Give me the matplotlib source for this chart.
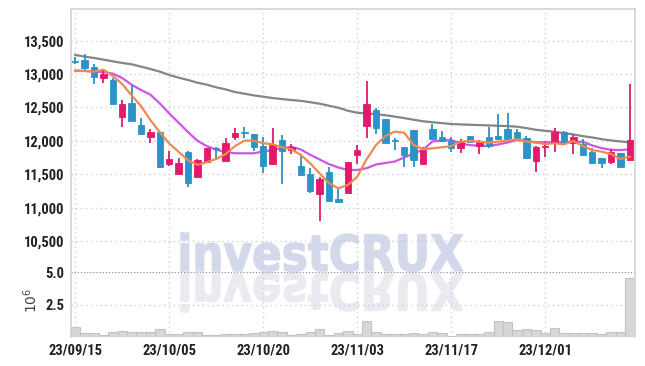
import numpy as np
import matplotlib.pyplot as plt
from matplotlib import font_manager as fm
from matplotlib.textpath import TextPath
from matplotlib.patches import PathPatch
from matplotlib.font_manager import FontProperties
from matplotlib.transforms import Affine2D

# trading days shown on the chart
dates = ["23/09/15", "23/09/18", "23/09/19", "23/09/20", "23/09/21", "23/09/22",
         "23/09/25", "23/09/26", "23/09/27", "23/10/04", "23/10/05", "23/10/06",
         "23/10/10", "23/10/11", "23/10/12", "23/10/13", "23/10/16", "23/10/17",
         "23/10/18", "23/10/19", "23/10/20", "23/10/23", "23/10/24", "23/10/25",
         "23/10/26", "23/10/27", "23/10/30", "23/10/31", "23/11/01", "23/11/02",
         "23/11/03", "23/11/06", "23/11/07", "23/11/08", "23/11/09", "23/11/10",
         "23/11/13", "23/11/14", "23/11/15", "23/11/16", "23/11/17", "23/11/20",
         "23/11/21", "23/11/22", "23/11/23", "23/11/24", "23/11/27", "23/11/28",
         "23/11/29", "23/11/30", "23/12/01", "23/12/04", "23/12/05", "23/12/06",
         "23/12/07", "23/12/08", "23/12/11", "23/12/12", "23/12/13", "23/12/14"]

opens = [13200, 13210, 13110, 12945, 12910, 12360, 12560, 12230, 12060, 12125,
         11650, 11500, 11830, 11460, 11690, 11895, 11702, 12061, 12130, 12102,
         11922, 11648, 12012, 11855, 11623, 11503, 11200, 11528, 11130, 11215,
         11792, 12226, 12461, 12326, 12010, 11903, 12162, 11648, 12172, 12057,
         12002, 11888, 12067, 11918, 12057, 12072, 12177, 12137, 12037, 11702,
         11910, 11963, 12137, 11963, 11952, 11832, 11742, 11678, 11817, 11708]
highs = [13260, 13295, 13145, 13050, 12935, 12610, 12835, 12335, 12170, 12125,
         11850, 11740, 11850, 11735, 11890, 11905, 12037, 12187, 12211, 12102,
         12062, 12196, 12087, 11948, 11798, 11588, 11463, 11603, 11289, 11683,
         11937, 12900, 12486, 12326, 12037, 11903, 12162, 11900, 12247, 12151,
         12052, 12027, 12067, 12012, 12211, 12396, 12411, 12172, 12072, 11927,
         11978, 12187, 12150, 12087, 12022, 11888, 11742, 11873, 11817, 12850]
lows = [13150, 13060, 12850, 12860, 12555, 12200, 12300, 12090, 11960, 11600,
        11620, 11500, 11305, 11460, 11665, 11715, 11702, 12012, 12037, 11852,
        11513, 11648, 11353, 11802, 11493, 11223, 10800, 11103, 11073, 11215,
        11653, 12046, 12102, 11972, 11862, 11603, 11603, 11648, 12020, 11987,
        11837, 11813, 11987, 11798, 11888, 12012, 12027, 12037, 11732, 11529,
        11753, 11828, 11963, 11798, 11768, 11648, 11597, 11648, 11613, 11708]
closes = [13185, 13095, 12960, 13000, 12555, 12545, 12300, 12100, 12125, 11610,
          11725, 11665, 11375, 11710, 11890, 11880, 11963, 12121, 12115, 11912,
          11627, 11937, 11852, 11900, 11493, 11253, 11428, 11103, 11090, 11683,
          11862, 12551, 12196, 11972, 11995, 11787, 11713, 11862, 12032, 12002,
          11888, 11997, 11987, 11978, 11927, 12027, 12027, 12037, 11747, 11907,
          11925, 12127, 11963, 12052, 11787, 11672, 11672, 11828, 11613, 12007]

# volume in millions
volumes = [0.78, 0.28, 0.32, 0.15, 0.38, 0.46, 0.40, 0.35, 0.40, 0.62,
           0.26, 0.26, 0.40, 0.35, 0.16, 0.15, 0.20, 0.20, 0.20, 0.30,
           0.36, 0.46, 0.41, 0.15, 0.25, 0.41, 0.61, 0.15, 0.30, 0.46,
           0.20, 1.23, 0.41, 0.25, 0.25, 0.25, 0.30, 0.25, 0.41, 0.30,
           0.05, 0.25, 0.25, 0.25, 0.41, 1.23, 1.13, 0.51, 0.61, 0.51,
           0.30, 0.72, 0.30, 0.30, 0.30, 0.30, 0.20, 0.41, 0.41, 4.54]

# moving averages
ma5 = [13050, 13045, 13035, 13065, 12970, 12850, 12680, 12520, 12310, 12130,
       11960, 11835, 11710, 11640, 11680, 11728, 11802, 11922, 12002, 12002,
       11963, 11948, 11903, 11873, 11787, 11663, 11513, 11364, 11289, 11338,
       11463, 11723, 11937, 12072, 12137, 12121, 11937, 11873, 11888, 11903,
       11922, 11987, 11997, 11987, 11972, 11987, 12002, 12022, 11987, 11972,
       11952, 11963, 11948, 11997, 11922, 11862, 11837, 11802, 11728, 11762]
ma20 = [13050, 13045, 13038, 13030, 13005, 12940, 12840, 12760, 12690, 12560,
        12410, 12270, 12130, 12000, 11920, 11865, 11835, 11813, 11813, 11813,
        11840, 11860, 11890, 11910, 11870, 11790, 11720, 11650, 11600, 11563,
        11563, 11590, 11645, 11668, 11690, 11750, 11810, 11865, 11990, 12005,
        12012, 11960, 11935, 11925, 11922, 11945, 11975, 12012, 11995, 11980,
        11978, 11978, 11980, 11983, 11987, 11930, 11890, 11865, 11862, 11873]
ma60 = [13285, 13260, 13240, 13215, 13190, 13165, 13145, 13110, 13075, 13035,
        12985, 12945, 12910, 12870, 12840, 12800, 12770, 12730, 12705, 12680,
        12660, 12640, 12625, 12610, 12598, 12578, 12555, 12525, 12495, 12450,
        12420, 12410, 12398, 12383, 12362, 12340, 12315, 12292, 12278, 12265,
        12252, 12245, 12240, 12235, 12230, 12225, 12220, 12211, 12190, 12165,
        12150, 12135, 12115, 12095, 12070, 12050, 12025, 12005, 11990, 11978]

UP = "#e3196b"
DOWN = "#2b93c7"
GRID = "#c9cde0"
TXT = "#222222"

# pick a narrow face for the tick labels if one is installed
installed = fm.fontManager.ttflist
label_font = dict(family="Roboto", weight="heavy", size=10.5, color=TXT)
for name in ["Roboto Condensed", "Liberation Sans Narrow", "Open Sans Condensed",
             "Noto Sans Condensed"]:
    if any(f.name == name for f in installed):
        label_font = dict(family=name, weight="bold", size=10.5, color=TXT)
        break

W, H = 645, 366
fig = plt.figure(figsize=(W / 100, H / 100), dpi=100)
fig.patch.set_facecolor("white")

# background layer for the watermark, in image pixels
ax_bg = fig.add_axes([0, 0, 1, 1], zorder=-1)
ax_bg.set_xlim(0, W)
ax_bg.set_ylim(0, H)
ax_bg.axis("off")

fp = FontProperties(family="DejaVu Sans", weight="bold")
tp = TextPath((0, 0), "investCRUX", size=1, prop=fp)
ext = tp.get_extents()
sx = (463 - 181) / ext.width
sy = 38 / ext.ymax
main = Affine2D().translate(-ext.xmin, 0).scale(sx, sy).translate(181, H - 271)
refl = Affine2D().translate(-ext.xmin, 0).scale(sx, -sy).translate(181, H - 274)
ax_bg.add_patch(PathPatch(main.transform_path(tp), fc="#d3d9eb", ec="#d3d9eb", lw=1.0))
ax_bg.add_patch(PathPatch(refl.transform_path(tp), fc="#eaebf0", ec="#eaebf0", lw=1.0))

left, right = 71 / W, 635 / W
y_top, y_mid, y_bot = 1 - 9 / H, 1 - 272 / H, 1 - 337 / H
ax = fig.add_axes([left, y_mid, right - left, y_top - y_mid])
axv = fig.add_axes([left, y_bot, right - left, y_mid - y_bot], sharex=ax)
for a in (ax, axv):
    a.set_facecolor("none")

x = np.arange(len(dates))
o, h, l, c = map(np.array, (opens, highs, lows, closes))
colors = np.where(c >= o, UP, DOWN)

ax.vlines(x, l, h, colors=colors, linewidth=1.3, zorder=3)
body = np.maximum(np.abs(c - o), 8)
ax.bar(x, body, bottom=np.minimum(o, c), width=0.68, color=colors,
       edgecolor=colors, linewidth=0.6, zorder=4)

ax.plot(x, ma60, color="#858585", linewidth=1.6, zorder=2)
ax.plot(x, ma20, color="#cc55e4", linewidth=1.6, zorder=2)
ax.plot(x, ma5, color="#ee8a50", linewidth=1.6, zorder=5)

ax.set_xlim(-0.45, len(dates) - 0.45)
ax.set_ylim(10036, 13973)
price_ticks = [10500, 11000, 11500, 12000, 12500, 13000, 13500]
ax.set_yticks(price_ticks)
ax.set_yticklabels([f"{p:,}" for p in price_ticks], **label_font)

axv.bar(x, volumes, width=1.0, color="#d7d7da", edgecolor="#c3c3c6",
        linewidth=0.8, zorder=2)
axv.set_ylim(0, 5.0)
axv.set_yticks([2.5, 5.0])
axv.set_yticklabels(["2.5", "5.0"], **label_font)
axv.axhline(5.0, color="#8e8e96", linestyle=(0, (1, 1.5)), linewidth=0.9, zorder=1)
fig.text(31 / W, 1 - 300 / H, "$10^6$", rotation=90, ha="center", va="center",
         fontsize=10, color="#444444")

tick_idx = x[::10]
axv.set_xticks(tick_idx)
axv.set_xticklabels([dates[i] for i in tick_idx], **label_font)
plt.setp(ax.get_xticklabels(), visible=False)

for a in (ax, axv):
    a.tick_params(length=0, pad=5)
    a.grid(True, color=GRID, linestyle=(0, (1, 2.5)), linewidth=1.0)
    a.set_axisbelow(True)
    for s in a.spines.values():
        s.set_color("#d2d2d2")
        s.set_linewidth(1.2)
ax.spines["bottom"].set_visible(False)
axv.spines["top"].set_visible(False)
axv.spines["bottom"].set_visible(False)
axv.grid(False, axis="y")
axv.axhline(2.5, color=GRID, linestyle=(0, (1, 2.5)), linewidth=1.0, zorder=0)

fig.savefig("out.png", dpi=100)
